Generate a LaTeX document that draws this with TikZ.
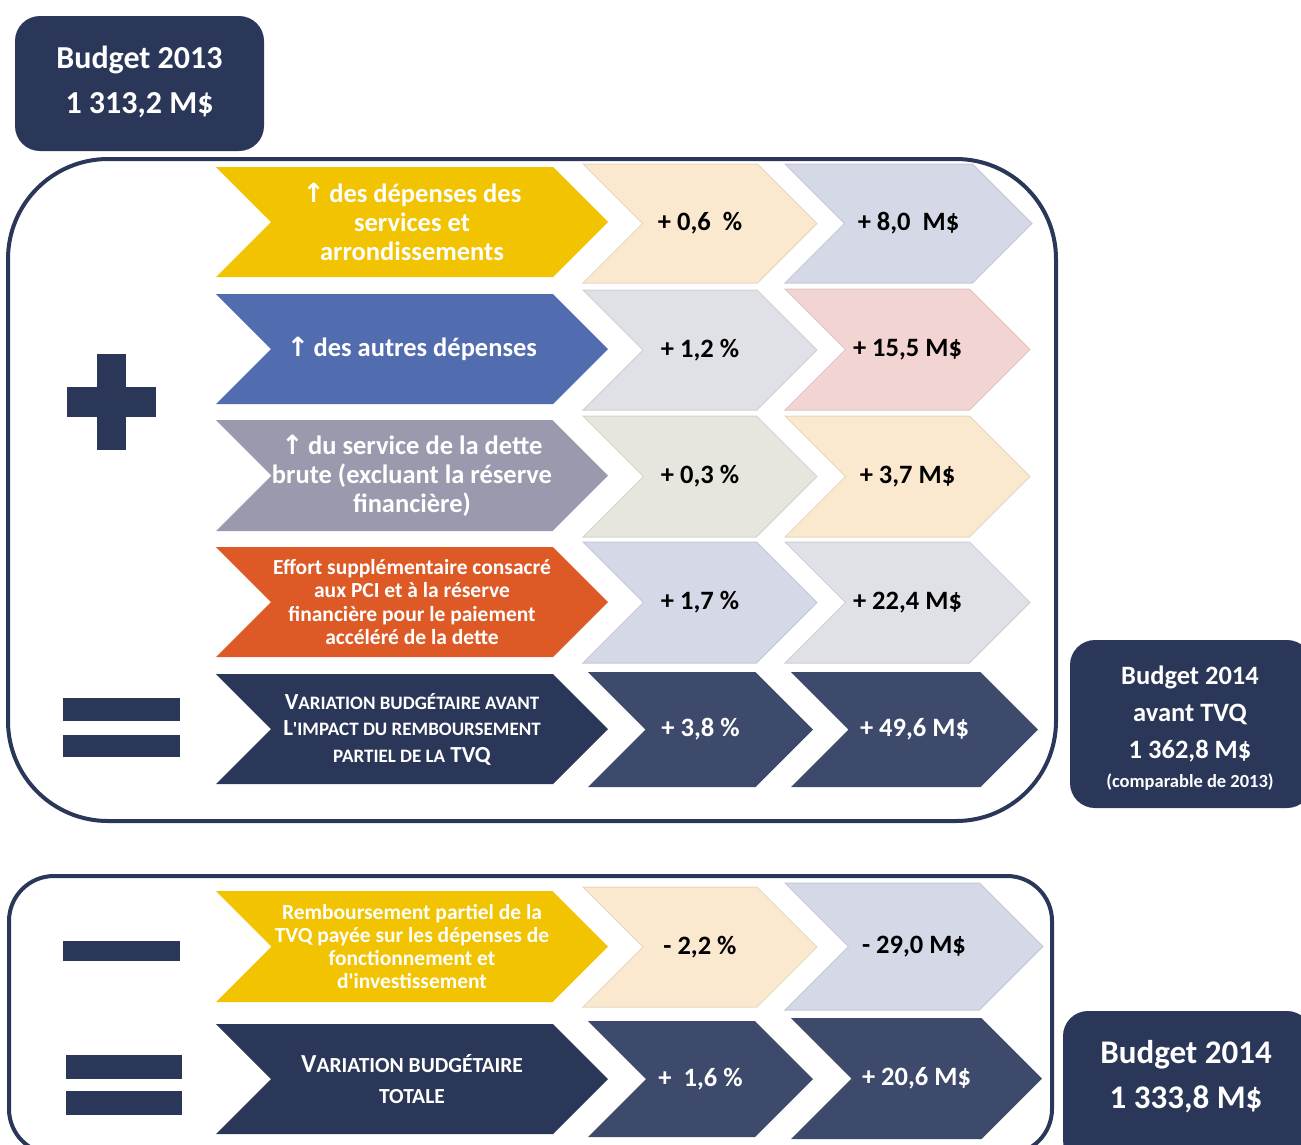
\documentclass[tikz,border=0pt]{standalone}
\usepackage{fontspec}
\setmainfont{Carlito}
\newfontfamily\symf{DejaVu Sans}
\definecolor{navy}{HTML}{2A3758}
\definecolor{slate}{HTML}{3E4A6B}
\definecolor{gold}{HTML}{F2C300}
\definecolor{peach}{HTML}{FBE9CF}
\definecolor{lav}{HTML}{D5D8E7}
\definecolor{blu}{HTML}{526CB0}
\definecolor{lgrey}{HTML}{E0E1E6}
\definecolor{pink}{HTML}{F2D5D3}
\definecolor{gpurple}{HTML}{9A9AAE}
\definecolor{ggreen}{HTML}{E6E6DF}
\definecolor{orng}{HTML}{DD5A26}
\newcommand\chev[8]{%
  \pgfmathsetmacro\dd{(#4-#3)/2}%
  \pgfmathsetmacro\ym{(#3+#4)/2}%
  \path[#5] (#1,#3) -- ({#2-\dd},#3) -- (#2,\ym) -- ({#2-\dd},#4) -- (#1,#4) -- ({#1+\dd},\ym) -- cycle;
  \node[#6] (#8) at ({(#1+#2)/2},\ym) {#7};
}
\newcommand\up{{\symf\bfseries ↑}\,}
\newcommand\scA[1]{{\fontsize{19}{26.5}\selectfont #1}}
\newcommand\scB[1]{{\fontsize{21.5}{31}\selectfont #1}}
\tikzset{
  dk/.style={fill=#1},
  lt/.style={fill=#1, draw=#1!92!black, line width=1pt},
  lbl/.style={align=center, inner sep=0pt, text=white, font=\bfseries\fontsize{26.5}{29}\selectfont},
  lblk/.style={lbl, text=black},
  lbls/.style={lbl, font=\bfseries\fontsize{21.5}{23.3}\selectfont},
  frame/.style={draw=navy, line width=4pt},
  bbox/.style={fill=navy, rounded corners=25pt},
  btxt/.style={align=center, inner sep=0pt, text=white, font=\bfseries\fontsize{32}{45}\selectfont},
  bar/.style={fill=navy}
}
\begin{document}
\begin{tikzpicture}[x=1pt,y=-1pt]
\useasboundingbox (0,0) rectangle (1301,1144);
\clip (0,0) rectangle (1301,1144);
% frames
\draw[frame, rounded corners=100pt] (8,159) rectangle (1056,821);
\draw[frame, rounded corners=45pt] (9,876) rectangle (1052,1154);
% budget boxes
\path[bbox] (15,16) rectangle (264,151);
\node[btxt] (b13) at (139.5,81.5) {Budget 2013\\1 313,2 M\$};
\path[bbox] (1070,640) rectangle (1312,808);
\node[btxt, font=\bfseries\fontsize{26.5}{37}\selectfont] (b14a) at (1190,728)
  {Budget 2014\\avant TVQ\\1 362,8 M\$\\[-8pt]{\fontsize{18.5}{20}\selectfont(comparable de 2013)}};
\path[bbox] (1063,1011) rectangle (1312,1165);
\node[btxt, font=\bfseries\fontsize{33}{45}\selectfont] (b14) at (1186,1077) {Budget 2014\\1 333,8 M\$};
% signs
\path[bar] (97,354) rectangle (126,450);
\path[bar] (67,387) rectangle (156,417);
\path[bar] (63,698) rectangle (180,721);
\path[bar] (63,735) rectangle (180,757);
\path[bar] (63,941) rectangle (180,961);
\path[bar] (66,1055) rectangle (182,1079);
\path[bar] (66,1091) rectangle (182,1115);
% row 1
\chev{216}{608}{167}{277}{dk=gold}{lbl}{\up des dépenses des\\services et\\arrondissements}{r1a}
\chev{583}{817}{164}{283}{lt=peach}{lblk}{+ 0,6\ \ \%}{r1b}
\chev{785}{1032}{164}{283}{lt=lav}{lblk}{+ 8,0\ \ M\$}{r1c}
% row 2
\chev{216}{608}{294}{404}{dk=blu}{lbl}{\up des autres dépenses}{r2a}
\chev{583}{817}{290}{410}{lt=lgrey}{lblk}{+ 1,2 \%}{r2b}
\chev{785}{1030}{289}{410}{lt=pink}{lblk}{+ 15,5 M\$}{r2c}
% row 3
\chev{216}{608}{420}{531}{dk=gpurple}{lbl}{\up du service de la dette\\brute (excluant la réserve\\financière)}{r3a}
\chev{583}{817}{416}{537}{lt=ggreen}{lblk}{+ 0,3 \%}{r3b}
\chev{785}{1030}{416}{537}{lt=peach}{lblk}{+ 3,7 M\$}{r3c}
% row 4
\chev{216}{608}{547}{657}{dk=orng}{lbls}{Effort supplémentaire consacré\\aux PCI et à la réserve\\financière pour le paiement\\accéléré de la dette}{r4a}
\chev{583}{817}{542}{663}{lt=lav}{lblk}{+ 1,7 \%}{r4b}
\chev{785}{1030}{542}{663}{lt=lgrey}{lblk}{+ 22,4 M\$}{r4c}
% row 5
\chev{216}{608}{674}{784}{dk=navy}{lbl, font=\bfseries\fontsize{23}{26.5}\selectfont}{V\scA{ARIATION BUDGÉTAIRE AVANT}\\L\scA{\textquotesingle IMPACT DU REMBOURSEMENT}\\\scA{PARTIEL DE LA} TVQ}{r5a}
\chev{588}{813}{672}{787}{dk=slate}{lbl}{+ 3,8 \%}{r5b}
\chev{791}{1038}{672}{787}{dk=slate}{lbl}{+ 49,6 M\$}{r5c}
% row 6
\chev{216}{608}{891}{1002}{dk=gold}{lbls}{Remboursement partiel de la\\TVQ payée sur les dépenses de\\fonctionnement et\\d\textquotesingle investissement}{r6a}
\chev{583}{817}{887}{1007}{lt=peach}{lblk}{- 2,2 \%}{r6b}
\chev{785}{1043}{883}{1010}{lt=lav}{lblk}{- 29,0 M\$}{r6c}
% row 7
\chev{216}{608}{1024}{1134}{dk=navy}{lbl, font=\bfseries\fontsize{26}{31}\selectfont}{V\scB{ARIATION BUDGÉTAIRE}\\\scB{TOTALE}}{r7a}
\chev{588}{813}{1021}{1137}{dk=slate}{lbl}{+\ \ 1,6 \%}{r7b}
\chev{791}{1042}{1018}{1139}{dk=slate}{lbl}{+ 20,6 M\$}{r7c}
\end{tikzpicture}
\end{document}
